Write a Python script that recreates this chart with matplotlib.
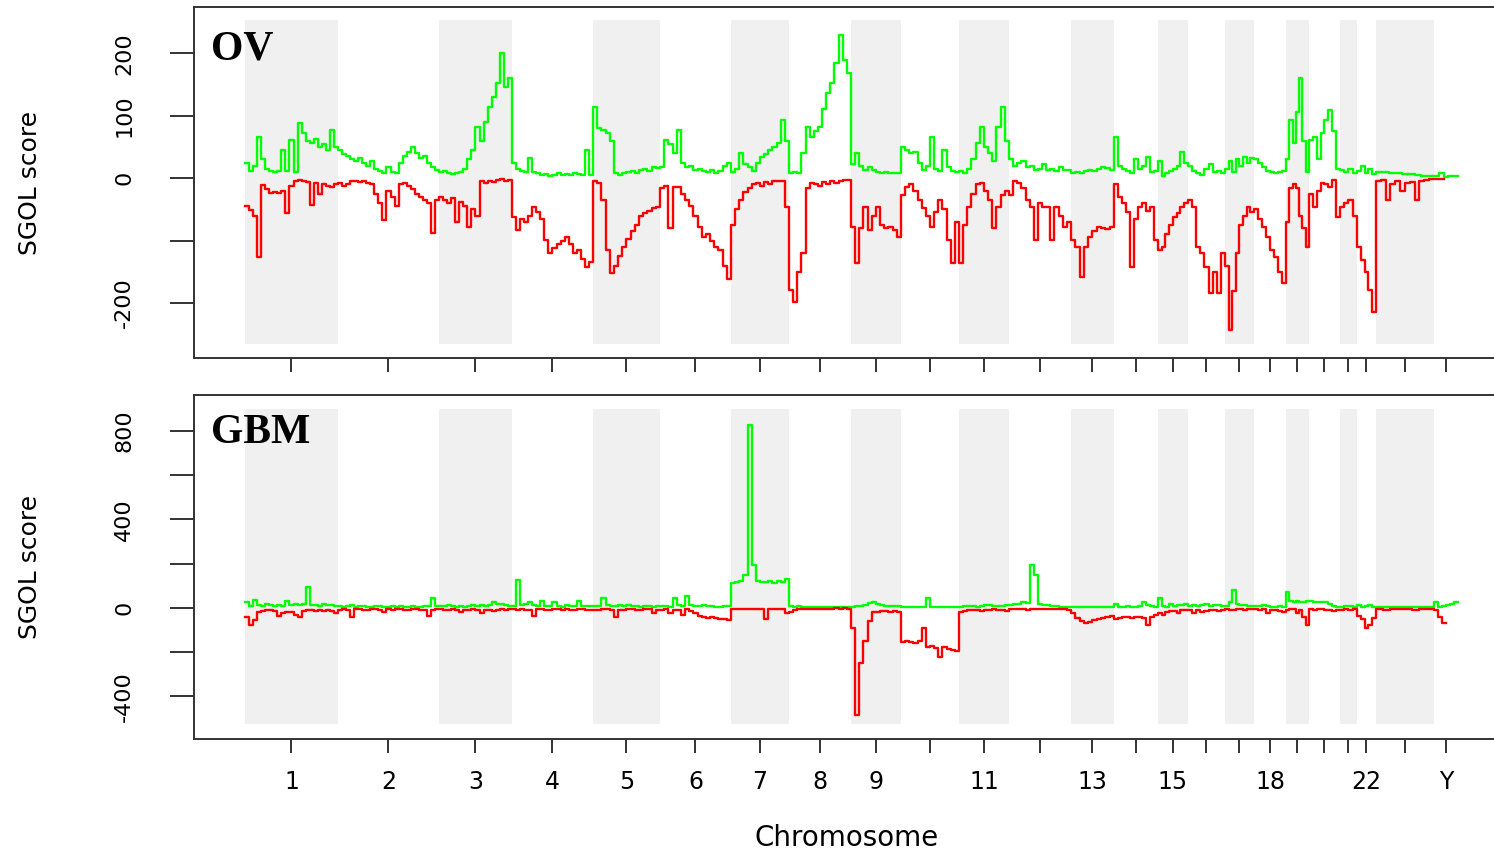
import numpy as np
import matplotlib
matplotlib.use('Agg')
import matplotlib.pyplot as plt

chroms = ['1', '2', '3', '4', '5', '6', '7', '8', '9', '10', '11', '12',
          '13', '14', '15', '16', '17', '18', '19', '20', '21', '22', 'X', 'Y']
chrom_len = [93, 101, 73, 81, 67, 71, 58, 62, 50, 58, 50, 62,
             43, 44, 30, 37, 29, 32, 23, 31, 17, 19, 58, 24]
# tick labels R kept (the others were dropped for overlap)
xtick_labels = ['1', '2', '3', '4', '5', '6', '7', '8', '9', '', '11', '',
                '13', '', '15', '', '', '18', '', '', '', '22', '', 'Y']

# OV gain / loss SGOL scores, one list per chromosome
ov_gain = [
    [24, 12, 20, 66, 30, 15, 12, 10, 11, 45, 12, 61, 10, 88, 72, 60, 56, 62, 50, 55, 45, 77, 50],
    [45, 38, 35, 30, 28, 33, 25, 20, 28, 15, 12, 8, 18, 10, 8, 25, 35, 42, 50, 40, 32, 35, 25, 18, 13],
    [10, 12, 8, 6, 8, 10, 15, 30, 45, 82, 60, 90, 114, 130, 152, 200, 146, 160],
    [25, 15, 12, 10, 32, 10, 8, 5, 6, 4, 5, 8, 5, 6, 5, 8, 6, 5, 45, 5],
    [114, 80, 77, 72, 60, 8, 5, 8, 10, 12, 8, 13, 15, 12, 18, 16],
    [18, 61, 55, 40, 77, 25, 18, 20, 13, 15, 12, 10, 13, 8, 12, 20, 25],
    [10, 15, 40, 22, 18, 12, 25, 34, 38, 45, 50, 56, 93, 60],
    [8, 10, 8, 40, 82, 66, 75, 82, 110, 136, 152, 184, 229, 189, 168],
    [22, 40, 20, 13, 18, 13, 10, 8, 10, 8, 8, 9],
    [50, 45, 40, 42, 25, 13, 20, 66, 15, 12, 45, 18, 12, 10],
    [12, 8, 15, 30, 56, 82, 50, 40, 28, 82, 114, 60],
    [30, 20, 25, 28, 18, 20, 13, 15, 22, 13, 15, 12, 18, 13, 13],
    [8, 10, 8, 12, 13, 12, 15, 18, 16, 13],
    [66, 20, 15, 12, 8, 30, 15, 20, 34, 10, 12],
    [28, 3, 8, 12, 15, 20, 42, 25],
    [20, 12, 8, 5, 15, 22, 10, 12, 8],
    [15, 28, 10, 30, 20, 34, 25, 32],
    [30, 25, 18, 12, 10, 8, 10, 12],
    [30, 93, 56, 106, 161, 60, 10],
    [61, 66, 30, 72, 93, 109, 75, 15],
    [13, 10, 15, 8],
    [12, 20, 8, 15, 6],
    [10, 10, 9, 8, 7, 6, 5, 4, 3],
    [3, 8, 2, 3, 4],
]
ov_loss = [
    [-45, -51, -60, -126, -11, -18, -24, -22, -24, -20, -56, -12, -5, -3, -4, -6, -43, -8, -25, -10, -12, -15, -10],
    [-8, -12, -10, -5, -5, -6, -4, -8, -10, -25, -40, -67, -20, -30, -45, -10, -8, -12, -18, -25, -30, -35, -40, -88, -35],
    [-30, -35, -40, -32, -70, -38, -45, -78, -50, -60, -5, -8, -4, -6, -3, -2, -4, -3],
    [-62, -83, -65, -70, -60, -46, -55, -65, -99, -120, -112, -105, -100, -94, -105, -120, -115, -130, -142, -135],
    [-5, -8, -35, -115, -152, -140, -125, -110, -98, -85, -75, -60, -56, -52, -48, -46],
    [-16, -12, -80, -14, -15, -25, -35, -45, -60, -78, -95, -90, -100, -110, -115, -140, -162],
    [-75, -50, -35, -22, -16, -10, -8, -12, -6, -10, -5, -4, -5, -46],
    [-179, -198, -150, -120, -16, -8, -10, -12, -6, -10, -5, -8, -4, -3, -3],
    [-78, -136, -80, -46, -83, -60, -46, -75, -80, -78, -83, -95],
    [-27, -15, -10, -20, -35, -48, -60, -78, -55, -35, -50, -99, -136, -70],
    [-136, -75, -46, -25, -10, -8, -20, -35, -80, -46, -27, -20],
    [-27, -5, -8, -16, -35, -46, -99, -40, -46, -46, -99, -46, -60, -78, -70],
    [-99, -110, -158, -110, -95, -85, -78, -80, -82, -78],
    [-10, -30, -40, -55, -142, -65, -46, -40, -52, -46, -99],
    [-115, -110, -90, -75, -62, -56, -46, -40],
    [-35, -46, -110, -120, -142, -184, -150, -184, -120],
    [-140, -243, -180, -120, -75, -60, -46, -55],
    [-50, -65, -78, -95, -115, -126, -150, -168],
    [-70, -16, -10, -16, -60, -80, -110],
    [-25, -46, -20, -8, -10, -15, -3, -62],
    [-46, -40, -35, -60],
    [-110, -131, -150, -179, -214],
    [-5, -3, -35, -10, -5, -20, -8, -6, -35, -4, -3, -2],
    [-2, -2, np.nan, np.nan, np.nan],
]

# GBM gain / loss SGOL scores
gbm_gain = [
    [25, 8, 35, 15, 10, 20, 12, 8, 15, 10, 30, 15, 20, 12, 18, 95, 15, 12, 10, 20, 12, 15, 8],
    [10, 5, 8, 12, 5, 8, 10, 6, 5, 8, 10, 5, 6, 8, 5, 10, 6, 5, 8, 5, 6, 8, 10, 45, 8],
    [10, 8, 12, 10, 5, 8, 6, 10, 12, 8, 15, 10, 12, 25, 20, 18, 15, 10],
    [10, 127, 15, 20, 25, 12, 10, 30, 8, 10, 25, 8, 6, 12, 8, 10, 30, 8, 10, 8],
    [10, 8, 45, 12, 10, 8, 15, 10, 12, 8, 10, 6, 8, 10, 5, 8],
    [10, 8, 5, 45, 12, 8, 55, 15, 10, 8, 12, 10, 8, 6, 5, 8, 8],
    [113, 115, 120, 149, 827, 194, 120, 115, 118, 120, 112, 122, 118, 130],
    [10, 5, 8, 6, 5, 4, 5, 3, 4, 5, 3, 4, 3, 5, 4],
    [5, 8, 10, 12, 22, 25, 20, 12, 10, 8, 8, 8],
    [5, 4, 3, 5, 4, 3, 45, 4, 5, 3, 4, 3, 4, 3],
    [5, 8, 10, 8, 6, 10, 12, 15, 10, 8, 10, 12],
    [15, 20, 18, 25, 22, 194, 149, 20, 15, 12, 10, 8, 5, 4, 3],
    [3, 4, 3, 5, 4, 3, 4, 3, 4, 3],
    [20, 5, 4, 8, 6, 5, 10, 25, 15, 8, 5],
    [45, 8, 5, 20, 10, 15, 12, 20],
    [10, 15, 8, 12, 20, 10, 15, 12, 8],
    [10, 25, 81, 20, 15, 12, 10, 8],
    [8, 10, 12, 8, 6, 5, 8, 5],
    [72, 30, 28, 30, 25, 28, 30],
    [30, 28, 25, 28, 25, 20, 8, 5],
    [5, 8, 10, 5],
    [12, 5, 8, 15, 3],
    [3, 3, 3, 3, 3, 3, 3, 3],
    [25, 5, 8, 12, 20, 27],
]
gbm_loss = [
    [-40, -77, -55, -20, -15, -10, -8, -12, -35, -25, -18, -20, -30, -40, -15, -10, -8, -12, -10, -15, -8, -12, -25],
    [-10, -5, -8, -40, -6, -5, -8, -10, -5, -6, -8, -20, -5, -8, -6, -5, -10, -8, -5, -6, -8, -10, -35, -8, -5],
    [-5, -8, -10, -6, -8, -20, -10, -8, -6, -10, -25, -8, -10, -12, -8, -6, -10, -5],
    [-5, -8, -6, -10, -8, -35, -6, -5, -8, -10, -6, -5, -8, -6, -10, -8, -5, -6, -8, -10],
    [-8, -10, -5, -6, -8, -40, -10, -8, -6, -5, -8, -10, -6, -5, -25, -8],
    [-8, -6, -25, -10, -8, -30, -5, -15, -25, -35, -40, -45, -40, -45, -50, -48, -54],
    [-5, -3, -4, -3, -5, -3, -4, -6, -50, -4, -3, -5, -4, -25],
    [-20, -8, -5, -4, -3, -5, -4, -3, -5, -4, -3, -2, -3, -2, -3],
    [-90, -483, -249, -150, -60, -20, -18, -15, -16, -18, -15, -18],
    [-153, -150, -155, -160, -150, -90, -176, -170, -180, -220, -175, -185, -190, -195],
    [-18, -15, -10, -8, -10, -12, -8, -10, -6, -8, -10, -12],
    [-5, -4, -3, -5, -8, -6, -4, -5, -3, -4, -6, -5, -4, -5, -10],
    [-25, -45, -60, -68, -62, -55, -50, -45, -40, -38],
    [-50, -45, -40, -42, -45, -40, -42, -45, -77, -40, -30],
    [-25, -30, -20, -15, -12, -25, -10, -8],
    [-10, -25, -8, -20, -12, -8, -10, -15, -8],
    [-5, -10, -8, -6, -5, -8, -4, -5],
    [-6, -8, -5, -25, -10, -8, -12, -20],
    [-10, -5, -6, -25, -8, -40, -77],
    [-5, -8, -6, -5, -8, -10, -15, -8],
    [-8, -6, -10, -5],
    [-35, -50, -90, -75, -45],
    [-5, -8, -5, -6, -5, -8, -5, -4],
    [-10, -40, -68, np.nan, np.nan, np.nan],
]

chrom_start = np.concatenate([[0], np.cumsum(chrom_len)[:-1]])
chrom_mid = chrom_start + np.array(chrom_len) / 2.0


def genome_steps(vals_by_chrom):
    # spread each chromosome's values evenly over its length
    xs, ys = [], []
    for c in range(len(chroms)):
        vals = vals_by_chrom[c]
        n = len(vals)
        for i, v in enumerate(vals):
            xs.append(chrom_start[c] + chrom_len[c] * i / n)
            ys.append(v)
    xs.append(chrom_start[-1] + chrom_len[-1])
    ys.append(ys[-1])
    return xs, ys


plt.rcParams['font.family'] = ['DejaVu Sans']
fig = plt.figure(figsize=(14.94, 8.51), dpi=100)

panels = [
    # name, gain, loss, ylim, ticks, tick labels, shade range, axes rect
    ('OV', ov_gain, ov_loss, (-288, 274), [-200, -100, 0, 100, 200],
     ['-200', '', '0', '100', '200'], (-266, 253),
     [0.12985, 0.57932, 0.87818, 0.41246]),
    ('GBM', gbm_gain, gbm_loss, (-592, 962), [-400, -200, 0, 200, 400, 600, 800],
     ['-400', '', '0', '', '400', '', '800'], (-524, 899),
     [0.12985, 0.13161, 0.87818, 0.40423]),
]

for k, (name, gain, loss, ylim, yt, ytl, shade, rect) in enumerate(panels):
    ax = fig.add_axes(rect)
    for c in range(0, len(chroms), 2):      # grey band for every other chromosome
        ax.fill_between([chrom_start[c], chrom_start[c] + chrom_len[c]], shade[0], shade[1],
                        color='#f0f0f0', lw=0, zorder=0)
    gx, gy = genome_steps(gain)
    lx, ly = genome_steps(loss)
    ax.plot(gx, gy, drawstyle='steps-post', color='#00ff00', lw=1.7, zorder=2)
    ax.plot(lx, ly, drawstyle='steps-post', color='#ff0000', lw=1.7, zorder=3)

    ax.set_xlim(-51, 1261)
    ax.set_ylim(*ylim)
    ax.set_yticks(yt, ytl)
    ax.set_xticks(chrom_mid, xtick_labels)
    ax.tick_params(axis='y', length=17, width=1.4, color='#333333', pad=26,
                   labelsize=16, labelrotation=90)
    ax.tick_params(axis='x', length=10, width=1.4, color='#333333', pad=12, labelsize=17)
    plt.setp(ax.get_yticklabels(), va='center')
    if k == 0:
        ax.tick_params(axis='x', labelbottom=False)
    for s in ax.spines.values():
        s.set_color('#333333')
        s.set_linewidth(1.4)

    ax.text(0.013, 0.85 if k == 0 else 0.86, name, transform=ax.transAxes,
            family=['Liberation Serif', 'DejaVu Serif'], weight='bold', fontsize=30,
            va='baseline', ha='left')

fig.text(30 / 1494, 1 - 183 / 851, 'SGOL score', rotation=90, ha='center', va='center', fontsize=18)
fig.text(30 / 1494, 1 - 567 / 851, 'SGOL score', rotation=90, ha='center', va='center', fontsize=18)
fig.text(847 / 1494, 1 - 838 / 851, 'Chromosome', ha='center', va='center', fontsize=20)

fig.savefig('out.png', dpi=100)
